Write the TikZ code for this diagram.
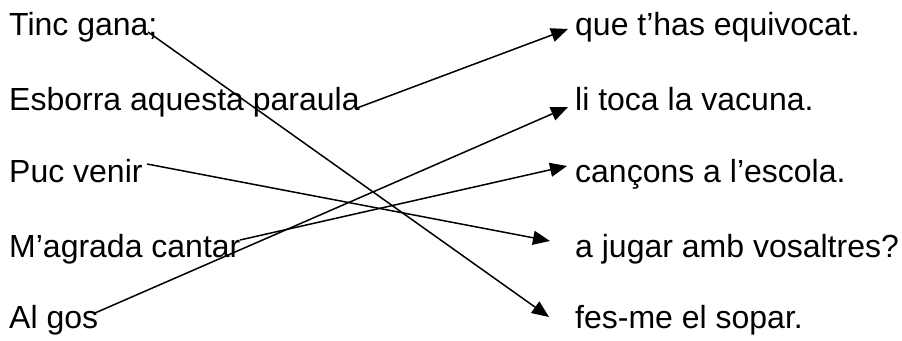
\documentclass[tikz,border=0pt]{standalone}
\usepackage{fontspec}
\setmainfont{Liberation Sans}
\usetikzlibrary{arrows.meta}
\tikzset{
  phrase/.style={anchor=base west,inner sep=0pt,font=\fontsize{32}{36}\selectfont},
  link/.style={line width=1.5pt,-{Triangle[length=17pt,width=14pt]}}
}
\begin{document}
\begin{tikzpicture}[x=1pt,y=-1pt]
   \useasboundingbox (0,0) rectangle (902,340);
   % left halves
   \node[phrase] (l1) at (9,35) {Tinc gana;};
   \node[phrase] (l2) at (9,110) {Esborra aquesta paraula};
   \node[phrase] (l3) at (9,182) {Puc venir};
   \node[phrase] (l4) at (9,257) {M’agrada cantar};
   \node[phrase] (l5) at (9,328) {Al gos};
   % right halves
   \node[phrase] (r1) at (575,35) {que t’has equivocat.};
   \node[phrase] (r2) at (575,110) {li toca la vacuna.};
   \node[phrase] (r3) at (575,182) {cançons a l’escola.};
   \node[phrase] (r4) at (575,257) {a jugar amb vosaltres?};
   \node[phrase] (r5) at (575,328) {fes-me el sopar.};

   \coordinate (s1) at (148,32);
   \coordinate (s2) at (357,108);
   \coordinate (s3) at (147,164);
   \coordinate (s4) at (240,240);
   \coordinate (s5) at (95,313);
   \coordinate (t1) at (568,29);
   \coordinate (t2) at (568,107);
   \coordinate (t3) at (567,166);
   \coordinate (t4) at (550,241);
   \coordinate (t5) at (549,317);

   \draw[link] (s1) -- (t5);
   \draw[link] (s2) -- (t1);
   \draw[link] (s3) -- (t4);
   \draw[link] (s4) -- (t3);
   \draw[link] (s5) -- (t2);
\end{tikzpicture}
\end{document}
